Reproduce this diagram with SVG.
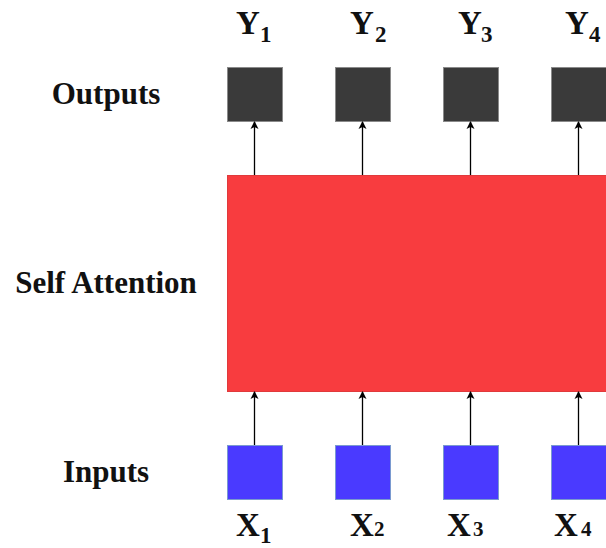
<svg xmlns="http://www.w3.org/2000/svg" width="606" height="548" viewBox="0 0 606 548">
<style>
.lbl{font-family:"Liberation Serif","Times New Roman",serif;font-weight:bold;font-size:31px;fill:#111}
.var{font-family:"Liberation Serif","Times New Roman",serif;font-weight:bold;font-size:33px;fill:#111}
.sub{font-family:"Liberation Serif","Times New Roman",serif;font-weight:bold;font-size:23px;fill:#111}
.dig{font-family:"Liberation Serif","Times New Roman",serif;font-weight:bold;font-size:21px;fill:#111}
.out{fill:#3a3a3a;stroke:#8a8a8a;stroke-width:1}
.in{fill:#4a3aff;stroke:#7a9ad0;stroke-width:1}
.sa{fill:#f83c3f;stroke:#e03a3c;stroke-width:1}
.con{stroke:#000;stroke-width:1.3;fill:none;marker-end:url(#ah)}
</style>
<defs>
<marker id="ah" markerWidth="8" markerHeight="9" refX="7" refY="4.5" orient="auto" markerUnits="userSpaceOnUse">
<path d="M0,0.5 L8,4.5 L0,8.5 L2,4.5 Z" fill="#000"/>
</marker>
</defs>
<g id="label-outputs"><text class="lbl" x="106" y="104" text-anchor="middle">Outputs</text></g>
<g id="label-self-attention"><text class="lbl" x="106" y="293" text-anchor="middle">Self Attention</text></g>
<g id="label-inputs"><text class="lbl" x="106" y="482" text-anchor="middle">Inputs</text></g>
<g id="self-attention"><rect class="sa" x="227.5" y="175.5" width="380" height="216"/></g>
<g id="y1"><rect class="out" x="227.5" y="67.5" width="55" height="54"/><text class="var" x="236" y="34">Y</text><text class="sub" x="260" y="42">1</text></g>
<g id="y2"><rect class="out" x="335.5" y="67.5" width="55" height="54"/><text class="var" x="350" y="34">Y</text><text class="sub" x="375" y="42">2</text></g>
<g id="y3"><rect class="out" x="443.5" y="67.5" width="55" height="54"/><text class="var" x="458" y="34">Y</text><text class="sub" x="481" y="42">3</text></g>
<g id="y4"><rect class="out" x="551.5" y="67.5" width="55" height="54"/><text class="var" x="565" y="34">Y</text><text class="sub" x="589" y="42">4</text></g>
<g id="x1"><rect class="in" x="227.5" y="445.5" width="55" height="54"/><text class="var" x="236" y="536">X</text><text class="sub" x="260" y="543">1</text></g>
<g id="x2"><rect class="in" x="335.5" y="445.5" width="55" height="54"/><text class="var" x="350" y="536">X</text><text class="dig" x="374" y="536">2</text></g>
<g id="x3"><rect class="in" x="443.5" y="445.5" width="55" height="54"/><text class="var" x="447" y="536">X</text><text class="dig" x="473" y="536">3</text></g>
<g id="x4"><rect class="in" x="551.5" y="445.5" width="55" height="54"/><text class="var" x="554" y="536">X</text><text class="dig" x="581" y="536">4</text></g>
<g id="connectors">
<line class="con" x1="254.5" y1="175" x2="254.5" y2="122"/>
<line class="con" x1="362.5" y1="175" x2="362.5" y2="122"/>
<line class="con" x1="470.5" y1="175" x2="470.5" y2="122"/>
<line class="con" x1="578.5" y1="175" x2="578.5" y2="122"/>
<line class="con" x1="254.5" y1="445" x2="254.5" y2="392"/>
<line class="con" x1="362.5" y1="445" x2="362.5" y2="392"/>
<line class="con" x1="470.5" y1="445" x2="470.5" y2="392"/>
<line class="con" x1="578.5" y1="445" x2="578.5" y2="392"/>
</g>
</svg>
